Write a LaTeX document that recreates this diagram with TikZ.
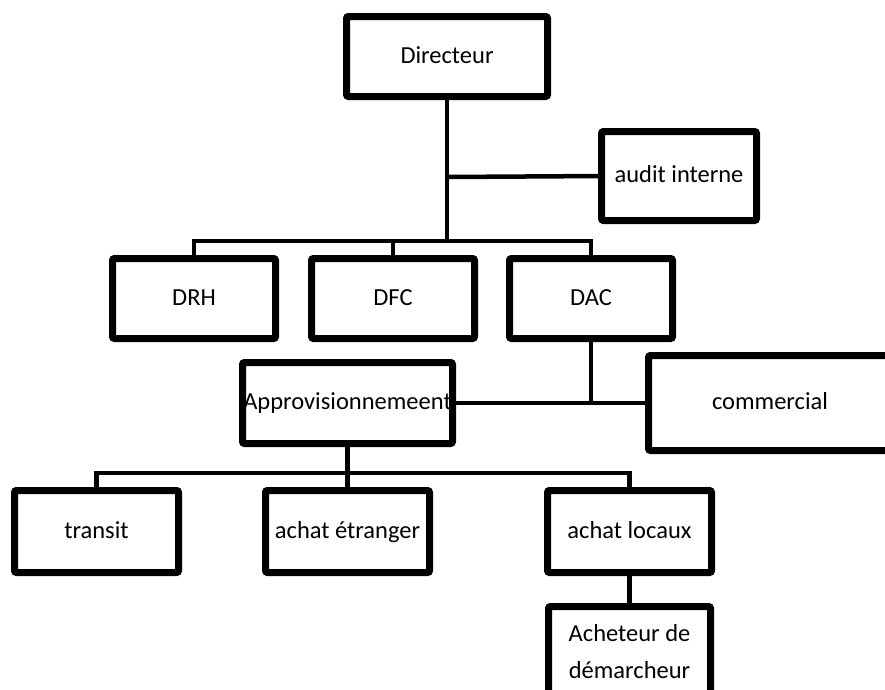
\documentclass[tikz,border=0pt]{standalone}
\usepackage{fontspec}
\setmainfont{Carlito}
\begin{document}
\begin{tikzpicture}[x=1pt,y=-1pt,
  unit/.style={draw, line width=7pt, rounded corners=2pt, fill=white,
    inner sep=0pt, outer sep=0pt, align=center,
    font=\fontsize{24.5}{37}\selectfont},
  oneline/.style={unit, text height=13pt, text depth=0pt},
  dept/.style={oneline, minimum width=163pt, minimum height=80pt},
  service/.style={oneline, minimum width=164pt, minimum height=82pt},
  link/.style={line width=4.5pt}]
\clip (0,0) rectangle (885,689);
\fill[white] (0,0) rectangle (885,689);

% top level
\node[oneline, minimum width=201pt, minimum height=80pt] (dir) at (447,56.5) {Directeur};
\node[oneline, minimum width=155pt, minimum height=89pt] (audit) at (679,176) {audit interne};

% directions
\node[dept] (drh) at (194,298.5) {DRH};
\node[dept] (dfc) at (393,298.5) {DFC};
\node[dept] (dac) at (591,298.5) {DAC};

% departments under DAC
\node[oneline, minimum width=210pt, minimum height=81pt] (appro) at (347.5,403) {Approvisionnemeent};
\node[oneline, minimum width=243pt, minimum height=95pt] (comm) at (770,403) {commercial};

% services
\node[service] (transit) at (96.5,531.5) {transit};
\node[service] (etr) at (347.5,531.5) {achat étranger};
\node[service] (loc) at (629.5,531.5) {achat locaux};
\node[unit, minimum width=162pt, minimum height=90pt, anchor=north] (ach) at (629.5,606.5) {Acheteur de\\démarcheur};

% connectors
\coordinate (busA) at (447,241);
\coordinate (auditJ) at (447,177);
\coordinate (dacJ) at (591,402);
\coordinate (busB) at (347.5,473);

\draw[link] (dir.south) -- (busA);
\draw[link] (auditJ) -- (audit.west);
\draw[link] (drh.north) |- (busA) -| (dac.north);
\draw[link] (dfc.north) -- (dfc.north |- busA);

\draw[link] (dac.south) -- (dacJ);
\draw[link] (appro.east) -- (comm.west);

\draw[link] (appro.south) -- (busB);
\draw[link] (transit.north) |- (busB) -| (loc.north);
\draw[link] (etr.north) -- (etr.north |- busB);
\draw[link] (loc.south) -- (ach.north);
\end{tikzpicture}
\end{document}
